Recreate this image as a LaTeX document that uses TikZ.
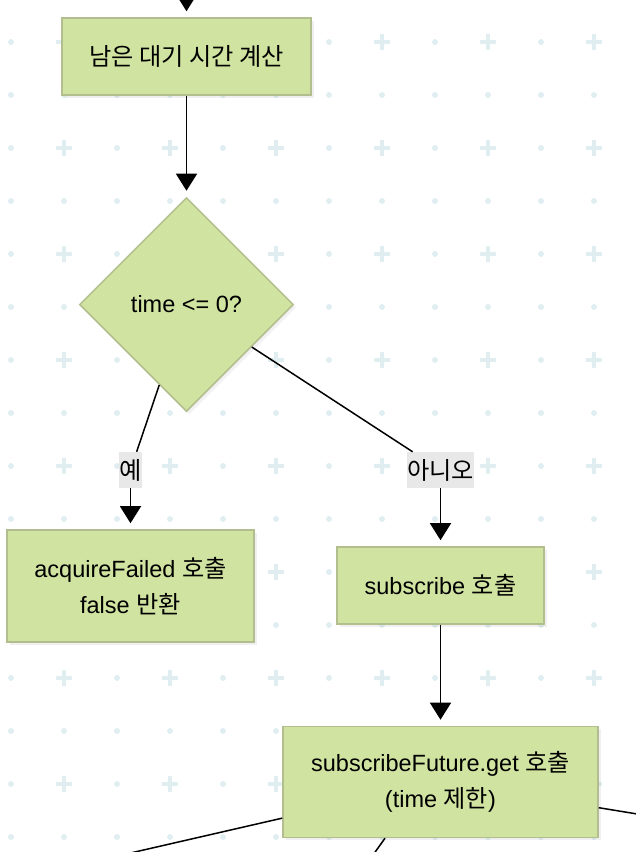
\documentclass[tikz,border=0pt]{standalone}
\usepackage{fontspec}
\setmainfont{Liberation Sans}
\newfontfamily\kr{Noto Sans CJK KR}[Scale=1.03]
\usepackage{xcolor}
\usepackage{tikz}
\usetikzlibrary{shapes.geometric, arrows.meta, positioning, shadows}
\definecolor{flow-green}{HTML}{D0E3A0}
\definecolor{flow-border}{HTML}{B3BE8E}
\definecolor{flow-grid}{HTML}{E0EEF1}
\definecolor{flow-tag}{HTML}{E8E8E8}

\begin{document}
\begin{tikzpicture}[
    x=1pt, y=1pt,
    node distance=42pt,
    box/.style={rectangle, draw=flow-border, fill=flow-green, line width=1.5pt, align=center, inner sep=0pt, font=\fontsize{23.5}{36}\selectfont, drop shadow={shadow xshift=3pt, shadow yshift=-3pt, opacity=0.12}},
    decision/.style={diamond, aspect=1, draw=flow-border, fill=flow-green, line width=1.5pt, inner sep=0pt, minimum width=214pt, minimum height=214pt, font=\fontsize{23.5}{36}\selectfont, drop shadow={shadow xshift=3pt, shadow yshift=-3pt, opacity=0.10}},
    tag/.style={rectangle, fill=flow-tag, inner sep=0pt, minimum height=36pt, font=\fontsize{23.5}{36}\selectfont\kr},
    link/.style={black, line width=1.5pt},
    arrow/.style={link, -{Triangle[width=21pt,length=17pt]}, shorten >=6pt},
    griddot/.style={fill=flow-grid},
    gridplus/.style={draw=flow-grid, line width=4pt}
]
    \useasboundingbox (0,0) rectangle (636,-852);
    \clip (0,0) rectangle (636,-852);

    \foreach \i in {0,...,12}{
        \foreach \j in {0,...,15}{
            \pgfmathtruncatemacro\isplus{and(iseven(\j),isodd(\i))}
            \ifnum\isplus=1
                \draw[gridplus] (11+53*\i-8, -42-53*\j) -- ++(16,0) (11+53*\i, -42-53*\j-8) -- ++(0,16);
            \else
                \fill[griddot] (11+53*\i, -42-53*\j) circle (3);
            \fi
        }
    }

    \node[box, minimum width=249pt, minimum height=77pt] (calc) at (186.5,-56.5) {{\kr 남은 대기 시간 계산}};
    \node[decision, below=101pt of calc] (check) {time <= 0?};
    \node[tag, minimum width=23pt] (yes) at (130.5,-470) {예};
    \node[tag, minimum width=65pt] (no) at (440.5,-470) {아니오};
    \node[box, minimum width=247pt, minimum height=112pt, below=41pt of yes] (fail) {acquireFailed {\kr 호출}\\false {\kr 반환}};
    \node[box, minimum width=207pt, minimum height=77pt, below=58pt of no] (sub) {subscribe {\kr 호출}};
    \node[box, minimum width=315pt, minimum height=111pt, below=101pt of sub] (get) {subscribeFuture.get {\kr 호출}\\(time {\kr 제한})};

    \coordinate (prev) at (186.5,20);
    \coordinate (outL) at (100,-860);
    \coordinate (outB) at (368,-862);
    \coordinate (outR) at (680,-821);

    \draw[arrow] (prev) -- (calc);
    \draw[arrow] (calc) -- (check);
    \draw[link] (check) -- (yes);
    \draw[arrow] (yes) -- (fail);
    \draw[link] (check) -- (no);
    \draw[arrow] (no) -- (sub);
    \draw[arrow] (sub) -- (get);
    \draw[link] (get) -- (outL);
    \draw[link] ([xshift=-55.5pt]get.south) -- (outB);
    \draw[link] (get) -- (outR);
\end{tikzpicture}
\end{document}
